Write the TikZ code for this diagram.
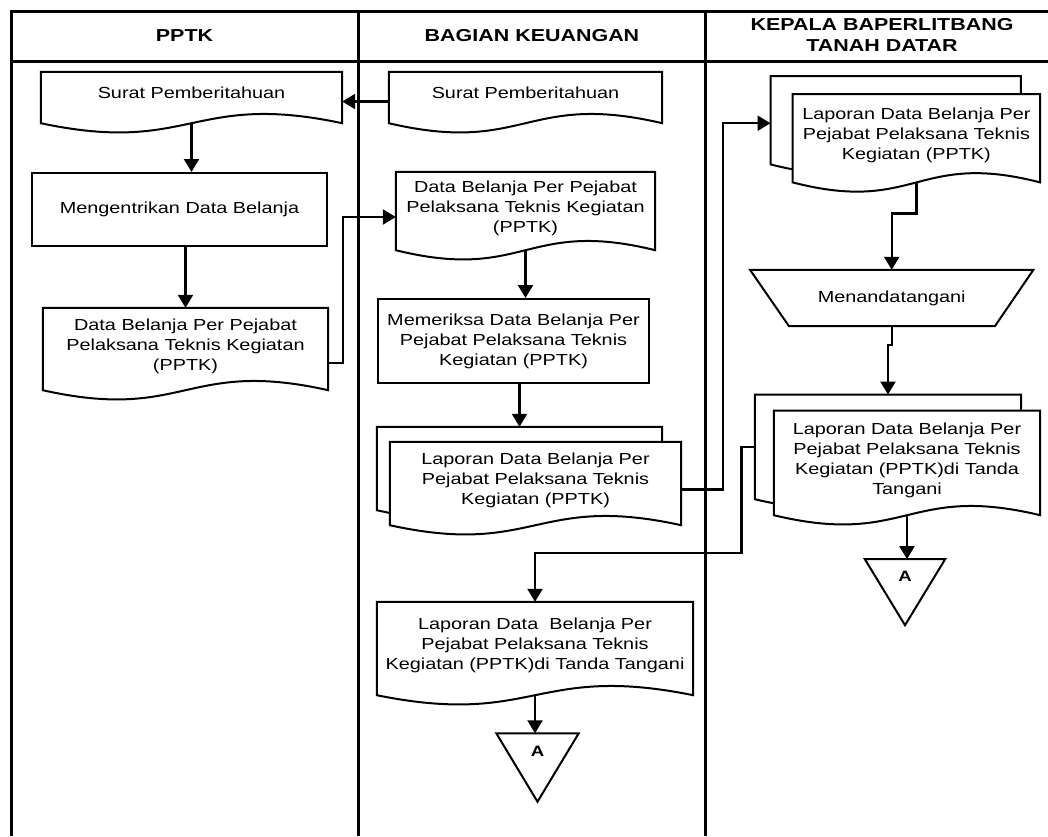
\documentclass[tikz,border=0pt]{standalone}
\usepackage{fontspec}
\setmainfont[FakeStretch=1.24]{Liberation Sans}
\usetikzlibrary{arrows.meta,calc}
\pgfdeclarelayer{bg}
\pgfsetlayers{bg,main}
\newcommand\docoutline[1]{\draw[shapeline, fill=white] (#1.north west) -- (#1.north east) -- (#1.south east) .. controls ($(#1.south)+(0,-32)$) and ($(#1.south)+(0,32)$) .. (#1.south west) -- cycle;}
\begin{document}
\begin{tikzpicture}[x=1pt,y=-1pt,
  txt/.style={font=\fontsize{16}{20}\selectfont},
  frameline/.style={line width=3pt},
  shapeline/.style={line width=2pt, line join=miter},
  docnode/.style={txt, inner sep=0pt, align=center, text depth=9pt},
  boxnode/.style={txt, inner sep=0pt, align=center, draw, line width=2pt},
  hidden/.style={inner sep=0pt},
  conn/.style={line width=2.3pt, -{Triangle[width=15pt,length=13pt]}},
  hdr/.style={font=\fontsize{17.3}{21.5}\selectfont\bfseries, align=center},
  letter/.style={font=\fontsize{15}{17}\selectfont\bfseries, inner sep=0pt}]
\useasboundingbox (0,0) rectangle (1048,836);
% frame
\draw[frameline] (11.5,836) -- (11.5,11) -- (1048,11);
\draw[frameline] (11.5,61) -- (1048,61);
\draw[frameline] (358.5,11) -- (358.5,836);
\draw[frameline] (705.5,11) -- (705.5,836);
% headers
\node[hdr] (h1) at (184.5,36) {PPTK};
\node[hdr] (h2) at (532,36) {BAGIAN KEUANGAN};
\node[hdr] (h3) at (882,35) {KEPALA BAPERLITBANG\\TANAH DATAR};
% column 1
\node[docnode, minimum width=301pt, minimum height=51pt] (n1) at (191.5,97.5) {Surat Pemberitahuan};
\node[boxnode, minimum width=295pt, minimum height=73pt] (n2) at (179.5,209.5) {Mengentrikan Data Belanja};
\node[docnode, minimum width=285pt, minimum height=82pt] (n3) at (185.5,349) {Data Belanja Per Pejabat\\Pelaksana Teknis Kegiatan\\(PPTK)};
% column 2
\node[docnode, minimum width=273pt, minimum height=51pt] (m1) at (525.5,97.5) {Surat Pemberitahuan};
\node[docnode, minimum width=259pt, minimum height=78pt] (m2) at (525.5,211) {Data Belanja Per Pejabat\\Pelaksana Teknis Kegiatan\\(PPTK)};
\node[boxnode, minimum width=271pt, minimum height=84pt] (m3) at (513.5,341) {Memeriksa Data Belanja Per\\Pejabat Pelaksana Teknis\\Kegiatan (PPTK)};
\node[hidden, minimum width=285pt, minimum height=83pt] (m4back) at (519.5,468.5) {};
\node[docnode, minimum width=291pt, minimum height=83pt] (m4) at (535.5,483.5) {Laporan Data Belanja Per\\Pejabat Pelaksana Teknis\\Kegiatan (PPTK)};
\node[docnode, minimum width=316pt, minimum height=93pt] (m5) at (535,648.5) {Laporan Data\ \ Belanja Per\\Pejabat Pelaksana Teknis\\Kegiatan (PPTK)di Tanda Tangani};
\node[hidden, minimum width=82pt, minimum height=68pt] (t1) at (537.5,767.5) {};
\node[letter] (a1) at (537.5,751.7) {A};
% column 3
\node[hidden, minimum width=250pt, minimum height=88pt] (k1back) at (895.7,120.2) {};
\node[docnode, minimum width=247pt, minimum height=88pt] (k1) at (916.4,138.2) {Laporan Data Belanja Per\\Pejabat Pelaksana Teknis\\Kegiatan (PPTK)};
\node[txt, inner sep=0pt, minimum width=283pt, minimum height=56pt] (k3) at (891.7,298) {Menandatangani};
\node[hidden, minimum width=266pt, minimum height=104.3pt] (k4back) at (888,446.85) {};
\node[docnode, minimum width=266pt, minimum height=104.3pt] (k4) at (907,462.85) {Laporan Data Belanja Per\\Pejabat Pelaksana Teknis\\Kegiatan (PPTK)di Tanda\\Tangani};
\node[hidden, minimum width=80pt, minimum height=65.7pt] (t2) at (905,592.15) {};
\node[letter] (a2) at (905,576) {A};
% outlines
\begin{pgfonlayer}{bg}
\docoutline{n1}
\docoutline{n3}
\docoutline{m1}
\docoutline{m2}
\docoutline{m4back}
\docoutline{m4}
\docoutline{m5}
\docoutline{k1back}
\docoutline{k1}
\docoutline{k4back}
\docoutline{k4}
\draw[shapeline] (k3.north west) -- (k3.north east) -- ($(k3.south east)+(-38.5,0)$) -- ($(k3.south west)+(39,0)$) -- cycle;
\draw[shapeline] (t1.north west) -- (t1.north east) -- (t1.south) -- cycle;
\draw[shapeline] (t2.north west) -- (t2.north east) -- (t2.south) -- cycle;
\end{pgfonlayer}
% connectors
\draw[conn] ([yshift=-4pt]m1.west) -- ([yshift=-4pt]n1.east);
\draw[conn] (n1.south) -- (n1.south |- n2.north);
\draw[conn] (n3.north |- n2.south) -- (n3.north);
\draw[conn] ([yshift=-14pt]n3.east) -- ++(15,0) |- ([yshift=-6pt]m2.west);
\draw[conn] (m2.south) -- (m2.south |- m3.north);
\draw[conn] (m4back.north |- m3.south) -- (m4back.north);
\draw[conn] ([yshift=-6pt]m4.east) -- ++(42,0) |- ([yshift=-3pt]k1back.west);
\draw[conn] (k1.south) -- ++(0,31) -| (k3.north);
\draw[conn] (k3.south) -- ++(0,19) -| (k4back.north);
\draw[conn] (k4.south) -- (k4.south |- t2.north);
\draw[conn] (k4back.west) -- ++(-13.3,0) |- ([yshift=49pt]m5.north) -- (m5.north);
\draw[conn] (m5.south) -- (m5.south |- t1.north);
\end{tikzpicture}
\end{document}
